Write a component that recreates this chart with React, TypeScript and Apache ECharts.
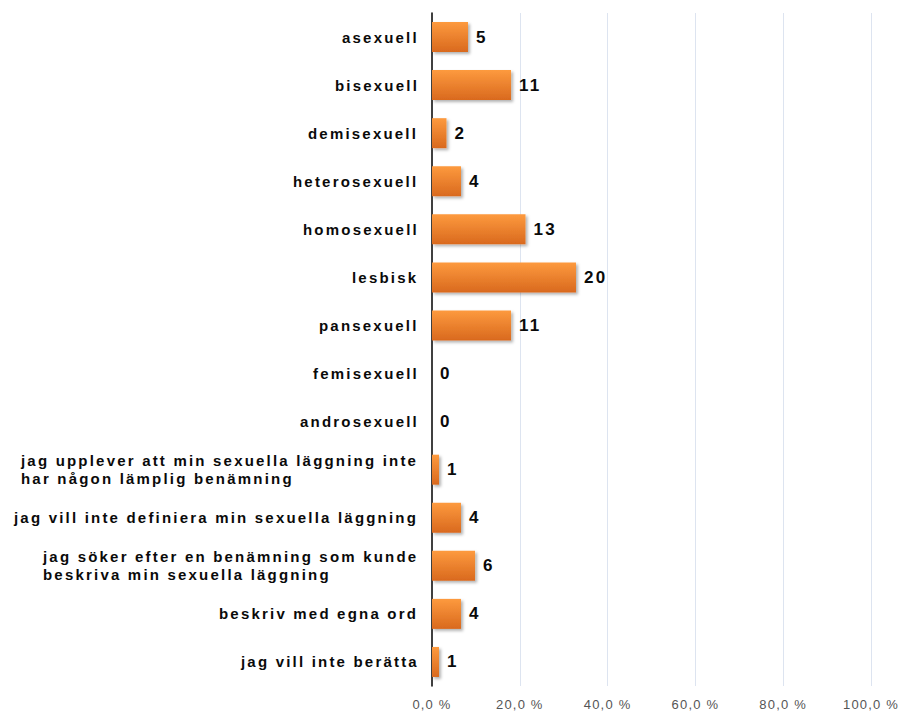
import React, { useEffect, useRef } from "react";
import * as echarts from "echarts";

const categories = [
  "asexuell",
  "bisexuell",
  "demisexuell",
  "heterosexuell",
  "homosexuell",
  "lesbisk",
  "pansexuell",
  "femisexuell",
  "androsexuell",
  "jag upplever att min sexuella läggning inte\nhar någon lämplig benämning",
  "jag vill inte definiera min sexuella läggning",
  "jag söker efter en benämning som kunde\nbeskriva min sexuella läggning",
  "beskriv med egna ord",
  "jag vill inte berätta",
];
const counts = [5, 11, 2, 4, 13, 20, 11, 0, 0, 1, 4, 6, 4, 1];
const percents = [8.2, 18.0, 3.3, 6.6, 21.3, 32.8, 18.0, 0, 0, 1.6, 6.6, 9.8, 6.6, 1.6];
const tickValues = [0, 20, 40, 60, 80, 100];

const FONT = "Liberation Sans, Arial, Helvetica, sans-serif";
const SPACING = 2.2;
const TICK_SPACING = 1.2;
const CAT_SIZE = 15;

function measureLabel(text: string): number {
  const canvas = document.createElement("canvas");
  const ctx = canvas.getContext("2d");
  if (!ctx) return text.length * 9;
  ctx.font = `bold ${CAT_SIZE}px "Liberation Sans", Arial, sans-serif`;
  let w = 0;
  for (const line of text.split("\n")) {
    const lw = ctx.measureText(line).width + line.length * SPACING;
    if (lw > w) w = lw;
  }
  return Math.ceil(w);
}

export default function App() {
  const ref = useRef<HTMLDivElement>(null);
  useEffect(() => {
    if (!ref.current) return;
    const chart = echarts.init(ref.current, undefined, { renderer: "svg" });
    const rich: Record<string, any> = {};
    categories.forEach((c, i) => {
      rich["c" + i] = {
        align: "left",
        width: measureLabel(c),
        color: "#0a0a0a",
        fontFamily: FONT,
        fontWeight: "bold",
        fontSize: CAT_SIZE,
        lineHeight: 18,
      };
    });
    chart.setOption({
      animation: false,
      backgroundColor: "#ffffff",
      grid: { left: 432, right: 30, top: 13, bottom: 25, containLabel: false },
      xAxis: {
        type: "value",
        min: tickValues[0],
        max: tickValues[tickValues.length - 1],
        interval: 20,
        axisLine: { show: false },
        axisTick: { show: false },
        splitLine: {
          show: true,
          lineStyle: { color: "#dde4f0", width: 1 },
          showMinLine: false,
        },
        axisLabel: {
          formatter: (v: number) => v.toFixed(1).replace(".", ",") + " %",
          color: "#555555",
          fontFamily: FONT,
          fontSize: 13,
          margin: 12,
        },
      },
      yAxis: {
        type: "category",
        inverse: true,
        data: categories,
        axisLine: { show: true, lineStyle: { color: "#000000", width: 1.5 } },
        axisTick: { show: false },
        splitLine: { show: false },
        axisLabel: {
          margin: 13,
          align: "right",
          formatter: (v: string, i: number) =>
            v
              .split("\n")
              .map((s) => "{c" + i + "|" + s + "}")
              .join("\n"),
          rich,
        },
      },
      series: [
        {
          type: "bar",
          data: percents,
          barWidth: 30,
          itemStyle: {
            color: new echarts.graphic.LinearGradient(0, 0, 0, 1, [
              { offset: 0, color: "#fd9a3e" },
              { offset: 1, color: "#d9691e" },
            ]),
            shadowColor: "rgba(0,0,0,0.3)",
            shadowBlur: 3,
            shadowOffsetX: 2,
            shadowOffsetY: 2,
          },
          label: {
            show: true,
            position: "right",
            distance: 8,
            formatter: (p: any) => String(counts[p.dataIndex]),
            color: "#0a0a0a",
            fontFamily: FONT,
            fontWeight: "bold",
            fontSize: 17,
          },
        },
      ],
    });
    return () => chart.dispose();
  }, []);
  return (
    <>
      <style>{`#chartbox svg text { letter-spacing: ${SPACING}px; }
#chartbox svg text[style*="13px"] { letter-spacing: ${TICK_SPACING}px; }`}</style>
      <div
        id="chartbox"
        ref={ref}
        style={{ position: "fixed", left: 0, top: 0, width: 901, height: 711 }}
      />
    </>
  );
}
